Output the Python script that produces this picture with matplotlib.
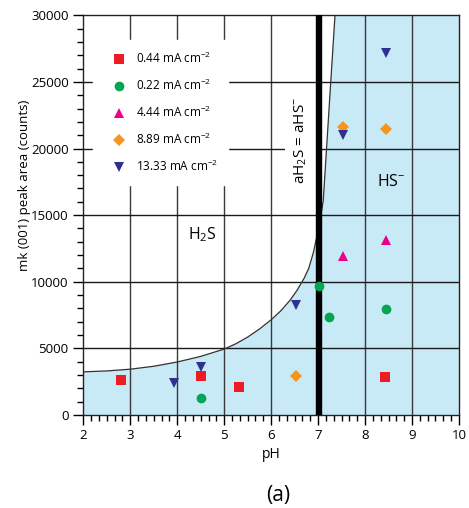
import matplotlib
matplotlib.use('Agg')
import matplotlib.pyplot as plt
from matplotlib.ticker import MultipleLocator

plt.rcParams['font.family'] = ['Open Sans', 'DejaVu Sans']
plt.rcParams['mathtext.fontset'] = 'custom'
plt.rcParams['mathtext.rm'] = 'Open Sans'
plt.rcParams['mathtext.it'] = 'Open Sans:italic'

# H2S / HS- boundary
boundary_ph = [2.0, 2.5, 3.0, 3.5, 4.0, 4.5, 5.0, 5.25, 5.5, 5.75, 6.0, 6.2,
               6.4, 6.55, 6.7, 6.8, 6.9, 6.98, 7.03, 7.07, 7.11, 7.18, 7.25, 7.36]
boundary_counts = [3240, 3310, 3440, 3660, 3980, 4400, 4950, 5350, 5850, 6450,
                   7150, 7800, 8600, 9350, 10250, 11000, 12200, 13500, 14300,
                   15200, 16100, 20000, 23900, 30000]

labels = ['0.44 mA cm$^{-2}$', '0.22 mA cm$^{-2}$', '4.44 mA cm$^{-2}$',
          '8.89 mA cm$^{-2}$', '13.33 mA cm$^{-2}$']
ph_044 = [2.80, 4.51, 5.31, 8.43]
cnt_044 = [2600, 2940, 2120, 2820]
ph_022 = [4.51, 7.02, 7.24, 8.44]
cnt_022 = [1290, 9690, 7370, 7940]
ph_444 = [7.52, 8.44]
cnt_444 = [11900, 13100]
ph_889 = [6.53, 7.52, 8.44]
cnt_889 = [2940, 21600, 21500]
ph_1333 = [3.93, 4.51, 6.53, 7.52, 8.44]
cnt_1333 = [2370, 3570, 8240, 21000, 27200]

series_ph = [ph_044, ph_022, ph_444, ph_889, ph_1333]
series_cnt = [cnt_044, cnt_022, cnt_444, cnt_889, cnt_1333]
markers = ['s', 'o', '^', 'D', 'v']
colors = ['#ed1c24', '#00a651', '#ec008c', '#f7941d', '#2e3192']
sizes = [7, 7, 7.5, 6.5, 7.5]

fig = plt.figure(figsize=(4.69, 5.08), dpi=100)
ax = fig.add_axes([0.1776, 0.183, 0.801, 0.787])

# shaded HS- field (right of / below the boundary)
poly_x = boundary_ph + [10, 10, 2]
poly_y = boundary_counts + [30000, 0, 0]
ax.fill(poly_x, poly_y, color='#c8e9f6', lw=0, zorder=0)
ax.plot(boundary_ph, boundary_counts, color='#333333', lw=0.9, zorder=2)

for v in range(3, 10):
    ax.axvline(v, color='#3a3a3a', lw=1.0, zorder=1)
for h in range(5000, 30000, 5000):
    ax.axhline(h, color='#1a1a1a', lw=1.0, zorder=1)

ax.axvline(7.03, color='black', lw=4.6, zorder=6)

for xs, ys, m, c, s, lab in zip(series_ph, series_cnt, markers, colors, sizes, labels):
    ax.plot(xs, ys, linestyle='none', marker=m, color=c, markersize=s,
            markeredgewidth=0, label=lab, zorder=7)

leg = ax.legend(loc='upper left', bbox_to_anchor=(0.026, 0.9375), borderaxespad=0,
                fontsize=8.5, frameon=True, fancybox=False, edgecolor='white',
                facecolor='white', framealpha=1, labelspacing=1.0, borderpad=0.9,
                handlelength=2.6, handletextpad=0.1, numpoints=1)
leg.set_zorder(8)

ax.text(6.64, 20600, 'aH$_2$S = aHS$^{-}$', rotation=90, ha='center', va='center',
        fontsize=11, zorder=5,
        bbox=dict(boxstyle='square,pad=0.5', facecolor='white', edgecolor='none'))
ax.text(4.54, 13500, 'H$_2$S', ha='center', va='center', fontsize=11.5, zorder=5)
ax.text(8.56, 17500, 'HS$^{-}$', ha='center', va='center', fontsize=11.5, zorder=5)

ax.set_xlim(2, 10)
ax.set_ylim(0, 30000)
ax.xaxis.set_major_locator(MultipleLocator(1))
ax.xaxis.set_minor_locator(MultipleLocator(1 / 6))
ax.yaxis.set_major_locator(MultipleLocator(5000))
ax.yaxis.set_minor_locator(MultipleLocator(1000))
ax.tick_params(which='major', direction='out', length=7, width=1, labelsize=9.5)
ax.tick_params(which='minor', direction='out', length=4.5, width=1)
ax.tick_params(axis='x', pad=3)
for sp in ax.spines.values():
    sp.set_linewidth(1.0)
    sp.set_color('#222222')

ax.set_xlabel('pH', fontsize=10, labelpad=4)
fig.text(25 / 469, 1 - 185 / 508, 'mk (001) peak area (counts)', rotation=90,
         ha='center', va='center', fontsize=9.5)
fig.text(278 / 469, 1 - 495 / 508, '(a)', ha='center', va='center', fontsize=15)

fig.savefig('out.png', dpi=100)
